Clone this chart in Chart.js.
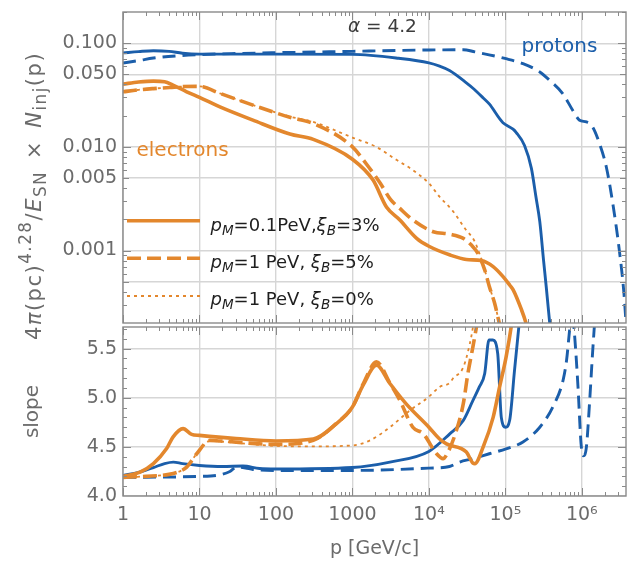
<!DOCTYPE html>
<html>
<head>
<meta charset="utf-8">
<script src="https://cdn.jsdelivr.net/npm/chart.js@4.4.1/dist/chart.umd.min.js"></script>
<style>
  html, body { margin: 0; padding: 0; background: #fff; }
  #wrap { position: relative; width: 628px; height: 565px; }
  #wrap canvas { position: absolute; left: 0; top: 0; }
</style>
</head>
<body>
<div id="wrap">
  <canvas id="specChart" width="628" height="565"></canvas>
  <canvas id="slopeChart" width="628" height="565"></canvas>
</div>
<script>
// axis ranges and ticks
const xMin = 1, xMax = 3.78e6;
const specMin = 2e-4, specMax = 0.2;
const slopeMin = 4.0, slopeMax = 5.72;

const xTickValues = [1, 10, 100, 1000, 1e4, 1e5, 1e6];
const xTickLabels = ['1', '10', '100', '1000', '10⁴', '10⁵', '10⁶'];
const specTickValues = [0.0005, 0.001, 0.005, 0.01, 0.05, 0.1];
const specTickLabels = ['', '0.001', '0.005', '0.010', '0.050', '0.100'];
const slopeTickValues = [4.0, 4.5, 5.0, 5.5];
const slopeTickLabels = ['4.0', '4.5', '5.0', '5.5'];

// top panel: spectra
const protonSolidP = [1, 1.6, 2.5, 4, 6, 10, 100, 1000, 4000, 1e4, 1.38e4, 1.86e4, 3.09e4, 3.77e4, 5.1e4, 6.2e4, 8.4e4, 9.3e4, 1.26e5, 1.38e5, 1.78e5, 2.19e5, 2.51e5, 2.82e5, 3.16e5, 3.43e5, 3.8e5, 4.17e5];
const protonSolidN = [0.0806, 0.083, 0.0847, 0.0835, 0.080, 0.0785, 0.0785, 0.078, 0.0715, 0.0645, 0.060, 0.0545, 0.0415, 0.0368, 0.0298, 0.0258, 0.0187, 0.0171, 0.0148, 0.0138, 0.0103, 0.0062, 0.0033, 0.0019, 0.0008, 0.00044, 0.0002, 0.0001];

const protonDashP = [1, 1.6, 2.5, 5, 10, 30, 100, 1000, 4000, 1e4, 2.82e4, 3.98e4, 1.02e5, 1.7e5, 2.82e5, 3.8e5, 5.62e5, 7.59e5, 9.33e5, 1.15e6, 1.38e6, 1.7e6, 2.09e6, 2.54e6, 3.09e6, 3.55e6, 3.8e6];
const protonDashN = [0.0644, 0.068, 0.0719, 0.0755, 0.0776, 0.0795, 0.081, 0.0835, 0.0852, 0.086, 0.0866, 0.0825, 0.0709, 0.0635, 0.0528, 0.0438, 0.0327, 0.0226, 0.0181, 0.0174, 0.0156, 0.0108, 0.0064, 0.00284, 0.00101, 0.00039, 0.00019];

const electronSolidP = [1, 1.6, 2.5, 3.5, 4.5, 6.8, 10, 18.5, 50, 152, 308, 1000, 1862, 2786, 4169, 6918, 1e4, 1.86e4, 3.09e4, 4.84e4, 6.92e4, 9.33e4, 1.15e5, 1.26e5, 1.62e5, 1.86e5, 2.09e5];
const electronSolidN = [0.0403, 0.0422, 0.0431, 0.0425, 0.0395, 0.034, 0.030, 0.0243, 0.0181, 0.0133, 0.0118, 0.0076, 0.00478, 0.00263, 0.00197, 0.00131, 0.0011, 0.00091, 0.00082, 0.0008, 0.0007, 0.00056, 0.00046, 0.00042, 0.00027, 0.0002, 0.00014];

const electronDashP = [1, 1.6, 2.5, 4.1, 6, 10, 18.5, 50, 152, 308, 1000, 1514, 2291, 3162, 4169, 6166, 1.14e4, 1.86e4, 2.82e4, 3.59e4, 4.37e4, 5.37e4, 6.17e4, 7.24e4, 8.32e4, 9.33e4];
const electronDashN = [0.034, 0.0355, 0.0365, 0.0374, 0.0382, 0.0383, 0.0328, 0.0253, 0.0193, 0.0168, 0.0100, 0.00688, 0.0045, 0.0031, 0.00255, 0.00197, 0.00152, 0.00144, 0.00131, 0.00113, 0.00094, 0.00065, 0.00045, 0.00031, 0.0002, 0.00014];

const electronDotP = [1, 1.6, 2.5, 4.1, 6, 10, 18.5, 50, 152, 308, 1000, 2042, 3758, 6166, 1e4, 1.38e4, 2.09e4, 2.95e4, 3.98e4, 4.57e4, 5.37e4, 6.17e4, 7.24e4, 8.32e4, 9.33e4];
const electronDotN = [0.034, 0.0355, 0.0365, 0.0374, 0.0382, 0.0383, 0.0328, 0.0253, 0.0196, 0.0174, 0.0123, 0.0100, 0.0075, 0.00597, 0.00445, 0.0033, 0.00237, 0.00164, 0.00122, 0.00094, 0.00065, 0.00045, 0.00031, 0.0002, 0.00014];

// bottom panel: local slope
const protonSolidSlopeP = [1, 1.6, 2.5, 3.5, 4.55, 6, 10, 20, 37, 61, 100, 1000, 3090, 1e4, 1.86e4, 2.82e4, 3.77e4, 4.57e4, 5.37e4, 6.1e4, 6.87e4, 7.94e4, 8.85e4, 1.007e5, 1.138e5, 1.318e5, 1.535e5];
const protonSolidSlope = [4.21, 4.24, 4.29, 4.33, 4.345, 4.33, 4.311, 4.30, 4.305, 4.28, 4.275, 4.29, 4.345, 4.454, 4.63, 4.77, 4.974, 5.11, 5.247, 5.587, 5.587, 5.45, 4.80, 4.70, 4.77, 5.28, 5.8];

const protonDashSlopeP = [1, 10, 18.5, 25, 30.6, 40, 50, 100, 1000, 1e4, 1.86e4, 2.51e4, 3.77e4, 6.17e4, 1.02e5, 1.7e5, 2.82e5, 4.17e5, 5.69e5, 6.31e5, 6.92e5, 7.41e5, 7.94e5, 8.91e5, 9.77e5, 1.047e6, 1.148e6, 1.259e6, 1.38e6, 1.479e6];
const protonDashSlope = [4.19, 4.20, 4.216, 4.25, 4.294, 4.285, 4.27, 4.26, 4.26, 4.284, 4.30, 4.345, 4.38, 4.43, 4.48, 4.55, 4.70, 4.906, 5.18, 5.38, 5.69, 5.9, 5.69, 5.11, 4.53, 4.41, 4.50, 4.94, 5.45, 5.8];

const electronSolidSlopeP = [1, 1.67, 2.5, 3.7, 4.5, 6.1, 7.9, 10, 30, 100, 308, 620, 1000, 1380, 2065, 3090, 5012, 1e4, 1.38e4, 1.7e4, 3.09e4, 3.77e4, 3.98e4, 5.13e4, 6.92e4, 8.41e4, 1.023e5, 1.19e5, 1.318e5];
const electronSolidSlope = [4.20, 4.243, 4.33, 4.48, 4.60, 4.686, 4.627, 4.617, 4.585, 4.56, 4.58, 4.737, 4.906, 5.128, 5.33, 5.145, 4.94, 4.70, 4.58, 4.53, 4.447, 4.335, 4.33, 4.50, 4.80, 5.11, 5.416, 5.72, 6.0];

const electronDashSlopeP = [1, 2, 4, 5.5, 6.8, 9.2, 13.7, 18.5, 100, 308, 620, 1000, 1380, 2065, 3090, 4169, 6166, 8414, 1.259e4, 1.531e4, 1.778e4, 2.291e4, 2.818e4, 3.236e4, 3.767e4, 4.365e4];
const electronDashSlope = [4.19, 4.20, 4.22, 4.25, 4.294, 4.43, 4.566, 4.56, 4.525, 4.566, 4.74, 4.906, 5.14, 5.365, 5.15, 4.974, 4.70, 4.635, 4.43, 4.38, 4.447, 4.668, 4.94, 5.247, 5.52, 5.8];

const electronDotSlopeP = [1, 2, 4, 5.5, 6.8, 9.2, 13.7, 18.5, 100, 300, 1000, 1698, 3090, 5623, 1e4, 1.38e4, 1.862e4, 2.065e4, 2.818e4, 3.428e4, 3.767e4, 4.169e4];
const electronDotSlope = [4.19, 4.20, 4.22, 4.25, 4.294, 4.43, 4.56, 4.555, 4.51, 4.505, 4.515, 4.566, 4.70, 4.87, 5.01, 5.11, 5.15, 5.196, 5.31, 5.55, 5.72, 6.0];

const ORANGE = '#E3872D';
const BLUE = '#1B5EAA';
const GRID = '#d6d6d6';
const FRAME = '#8a8a8a';
const LABEL = '#6b6b6b';
const FONT = '"DejaVu Sans", sans-serif';

const legendRows = [
  [{t: 'p', it: 1}, {t: 'M', it: 1, sub: 1}, {t: '=0.1PeV,'}, {t: 'ξ', it: 1}, {t: 'B', it: 1, sub: 1}, {t: '=3%'}],
  [{t: 'p', it: 1}, {t: 'M', it: 1, sub: 1}, {t: '=1 PeV, '}, {t: 'ξ', it: 1}, {t: 'B', it: 1, sub: 1}, {t: '=5%'}],
  [{t: 'p', it: 1}, {t: 'M', it: 1, sub: 1}, {t: '=1 PeV, '}, {t: 'ξ', it: 1}, {t: 'B', it: 1, sub: 1}, {t: '=0%'}]
];
const yTitle = [{t: '4'}, {t: 'π', it: 1}, {t: '(pc)'}, {t: '4.28', sup: 1}, {t: '/'}, {t: 'E', it: 1}, {t: 'SN', sub: 1},
  {t: '\u2002×\u2002'}, {t: 'N', it: 1}, {t: 'inj', sub: 1}, {t: '(p)'}];

const pts = (xs, ys) => xs.map((x, i) => ({x: x, y: ys[i]}));

function series(label, xs, ys, color, width, dash) {
  return {
    label: label,
    data: pts(xs, ys),
    showLine: true,
    borderColor: color,
    backgroundColor: color,
    borderWidth: width,
    borderDash: dash,
    pointRadius: 0,
    fill: false,
    cubicInterpolationMode: 'monotone',
    capBezierPoints: false,
    clip: 0
  };
}

function logTicks(lo, hi, big) {
  const out = [];
  for (let k = Math.floor(Math.log10(lo)); k <= Math.ceil(Math.log10(hi)); k++) {
    for (let m = 1; m <= 9; m++) {
      const v = m * Math.pow(10, k);
      if (v >= lo * 0.999 && v <= hi * 1.001) out.push({v: v, len: m === 1 ? 8 : (big && m === 5 ? 6 : 4)});
    }
  }
  return out;
}
function linTicks(lo, hi) {
  const out = [];
  for (let i = Math.round(lo * 10); i <= hi * 10; i++) out.push({v: i / 10, len: i % 5 === 0 ? 8 : 4});
  return out;
}

// frame with inward ticks on all four sides
function frameTicks(xTicks, yTicks) {
  return {
    id: 'frameTicks',
    afterDraw(chart) {
      const {ctx, chartArea: a} = chart;
      const xs = chart.scales.x, ys = chart.scales.y;
      ctx.save();
      ctx.strokeStyle = FRAME;
      ctx.lineWidth = 1;
      const seg = (x1, y1, x2, y2) => { ctx.beginPath(); ctx.moveTo(x1, y1); ctx.lineTo(x2, y2); ctx.stroke(); };
      xTicks.forEach(t => {
        const x = Math.round(xs.getPixelForValue(t.v)) + 0.5;
        if (x < a.left || x > a.right) return;
        seg(x, a.bottom, x, a.bottom - t.len);
        seg(x, a.top, x, a.top + t.len);
      });
      yTicks.forEach(t => {
        const y = Math.round(ys.getPixelForValue(t.v)) + 0.5;
        if (y < a.top || y > a.bottom) return;
        seg(a.left, y, a.left + t.len, y);
        seg(a.right, y, a.right - t.len, y);
      });
      ctx.lineWidth = 1.4;
      ctx.strokeRect(a.left, a.top, a.right - a.left, a.bottom - a.top);
      ctx.restore();
    }
  };
}

function richFont(s, size, sub) {
  const fs = (s.sub || s.sup) ? size * sub : size;
  return (s.it ? 'italic ' : '') + fs.toFixed(1) + 'px ' + FONT;
}
function richWidth(ctx, segs, size, sub) {
  let w = 0;
  segs.forEach(s => { ctx.font = richFont(s, size, sub); w += ctx.measureText(s.t).width; });
  return w;
}
function drawRich(ctx, segs, x, y, size, sub) {
  segs.forEach(s => {
    ctx.font = richFont(s, size, sub);
    const dy = s.sub ? size * 0.26 : s.sup ? -size * 0.45 : 0;
    ctx.fillText(s.t, x, y + dy);
    x += ctx.measureText(s.t).width;
  });
  return x;
}

// labels, legend and y title of the top panel
const overlayText = {
  id: 'overlayText',
  afterDraw(chart) {
    const ctx = chart.ctx;
    const ds = chart.data.datasets;
    ctx.save();
    ctx.textBaseline = 'alphabetic';
    ctx.textAlign = 'left';

    ctx.fillStyle = '#3c3c3c';
    drawRich(ctx, [{t: 'α', it: 1}, {t: ' = 4.2'}], 348, 31.5, 18.5, 0.75);

    ctx.fillStyle = BLUE;
    ctx.font = '20px ' + FONT;
    ctx.fillText('protons', 521.5, 51.5);
    ctx.fillStyle = ORANGE;
    ctx.fillText('electrons', 136.5, 155.5);

    const rowY = [220.7, 258.3, 296];
    const baseY = [230.5, 267.5, 304.5];
    legendRows.forEach((row, i) => {
      const d = ds[i];
      ctx.strokeStyle = d.borderColor;
      ctx.lineWidth = d.borderWidth;
      ctx.setLineDash(d.borderDash);
      ctx.beginPath();
      ctx.moveTo(127, rowY[i]);
      ctx.lineTo(200, rowY[i]);
      ctx.stroke();
      ctx.setLineDash([]);
      ctx.fillStyle = '#1e1e1e';
      drawRich(ctx, row, 210.5, baseY[i], 18, 0.75);
    });

    // rotated y title
    const size = 21, sub = 0.8, target = 294;
    ctx.fillStyle = LABEL;
    ctx.translate(33, 196);
    ctx.rotate(-Math.PI / 2);
    const w0 = richWidth(ctx, yTitle, size, sub);
    const nChars = yTitle.reduce((n, s) => n + s.t.length, 0);
    const ls = Math.min(1.5, Math.max(0, (target - w0) / nChars));
    ctx.letterSpacing = ls.toFixed(2) + 'px';
    const w = richWidth(ctx, yTitle, size, sub);
    drawRich(ctx, yTitle, -w / 2, size * 0.36, size, sub);
    ctx.restore();
  }
};

const gridOpts = { color: GRID, lineWidth: 1.4, drawTicks: false };

new Chart(document.getElementById('specChart'), {
  type: 'scatter',
  data: {
    datasets: [
      series('electrons, pM=0.1PeV, ξB=3%', electronSolidP, electronSolidN, ORANGE, 3.6, []),
      series('electrons, pM=1 PeV, ξB=5%', electronDashP, electronDashN, ORANGE, 3.6, [14, 6]),
      series('electrons, pM=1 PeV, ξB=0%', electronDotP, electronDotN, ORANGE, 1.8, [3, 4]),
      series('protons, pM=0.1PeV', protonSolidP, protonSolidN, BLUE, 2.9, []),
      series('protons, pM=1 PeV', protonDashP, protonDashN, BLUE, 2.9, [13, 7])
    ]
  },
  options: {
    responsive: false,
    animation: false,
    events: [],
    layout: { padding: { top: 12, bottom: 242, left: 0, right: 2 } },
    plugins: { legend: { display: false }, tooltip: { enabled: false } },
    scales: {
      x: {
        type: 'logarithmic', min: xMin, max: xMax, position: 'bottom',
        afterBuildTicks: s => { s.ticks = xTickValues.map(v => ({value: v})); },
        afterFit: s => { s.height = 0; s.paddingLeft = 0; s.paddingRight = 0; },
        ticks: { display: false },
        grid: gridOpts,
        border: { display: false }
      },
      y: {
        type: 'logarithmic', min: specMin, max: specMax,
        afterBuildTicks: s => { s.ticks = specTickValues.map(v => ({value: v})); },
        afterFit: s => { s.width = 123; s.paddingTop = 0; s.paddingBottom = 0; },
        ticks: {
          callback: v => specTickLabels[specTickValues.indexOf(v)],
          color: LABEL, font: { family: FONT, size: 19 }, padding: 6, autoSkip: false
        },
        grid: gridOpts,
        border: { display: false }
      }
    }
  },
  plugins: [frameTicks(logTicks(xMin, xMax, false), logTicks(specMin, specMax, true)), overlayText]
});

new Chart(document.getElementById('slopeChart'), {
  type: 'scatter',
  data: {
    datasets: [
      series('electrons, pM=0.1PeV, ξB=3%', electronSolidSlopeP, electronSolidSlope, ORANGE, 3.6, []),
      series('electrons, pM=1 PeV, ξB=5%', electronDashSlopeP, electronDashSlope, ORANGE, 3.6, [14, 6]),
      series('electrons, pM=1 PeV, ξB=0%', electronDotSlopeP, electronDotSlope, ORANGE, 1.8, [3, 4]),
      series('protons, pM=0.1PeV', protonSolidSlopeP, protonSolidSlope, BLUE, 2.9, []),
      series('protons, pM=1 PeV', protonDashSlopeP, protonDashSlope, BLUE, 2.9, [13, 7])
    ]
  },
  options: {
    responsive: false,
    animation: false,
    events: [],
    layout: { padding: { top: 327, bottom: 0, left: 0, right: 2 } },
    plugins: { legend: { display: false }, tooltip: { enabled: false } },
    scales: {
      x: {
        type: 'logarithmic', min: xMin, max: xMax, position: 'bottom',
        afterBuildTicks: s => { s.ticks = xTickValues.map(v => ({value: v})); },
        afterFit: s => { s.height = 69; s.paddingLeft = 0; s.paddingRight = 0; },
        ticks: {
          callback: v => xTickLabels[xTickValues.indexOf(v)],
          color: LABEL, font: { family: FONT, size: 19 }, padding: 8, maxRotation: 0, autoSkip: false
        },
        title: { display: true, text: 'p [GeV/c]', color: LABEL, font: { family: FONT, size: 19 }, padding: { top: 0, bottom: 5 } },
        grid: gridOpts,
        border: { display: false }
      },
      y: {
        type: 'linear', min: slopeMin, max: slopeMax,
        afterBuildTicks: s => { s.ticks = slopeTickValues.map(v => ({value: v})); },
        afterFit: s => { s.width = 123; s.paddingTop = 0; s.paddingBottom = 0; },
        ticks: {
          callback: v => slopeTickLabels[slopeTickValues.indexOf(v)],
          color: LABEL, font: { family: FONT, size: 19 }, padding: 6, autoSkip: false
        },
        title: { display: true, text: 'slope', color: LABEL, font: { family: FONT, size: 20 }, padding: { top: 21, bottom: 0 } },
        grid: gridOpts,
        border: { display: false }
      }
    }
  },
  plugins: [frameTicks(logTicks(xMin, xMax, false), linTicks(slopeMin, slopeMax))]
});
</script>
</body>
</html>
